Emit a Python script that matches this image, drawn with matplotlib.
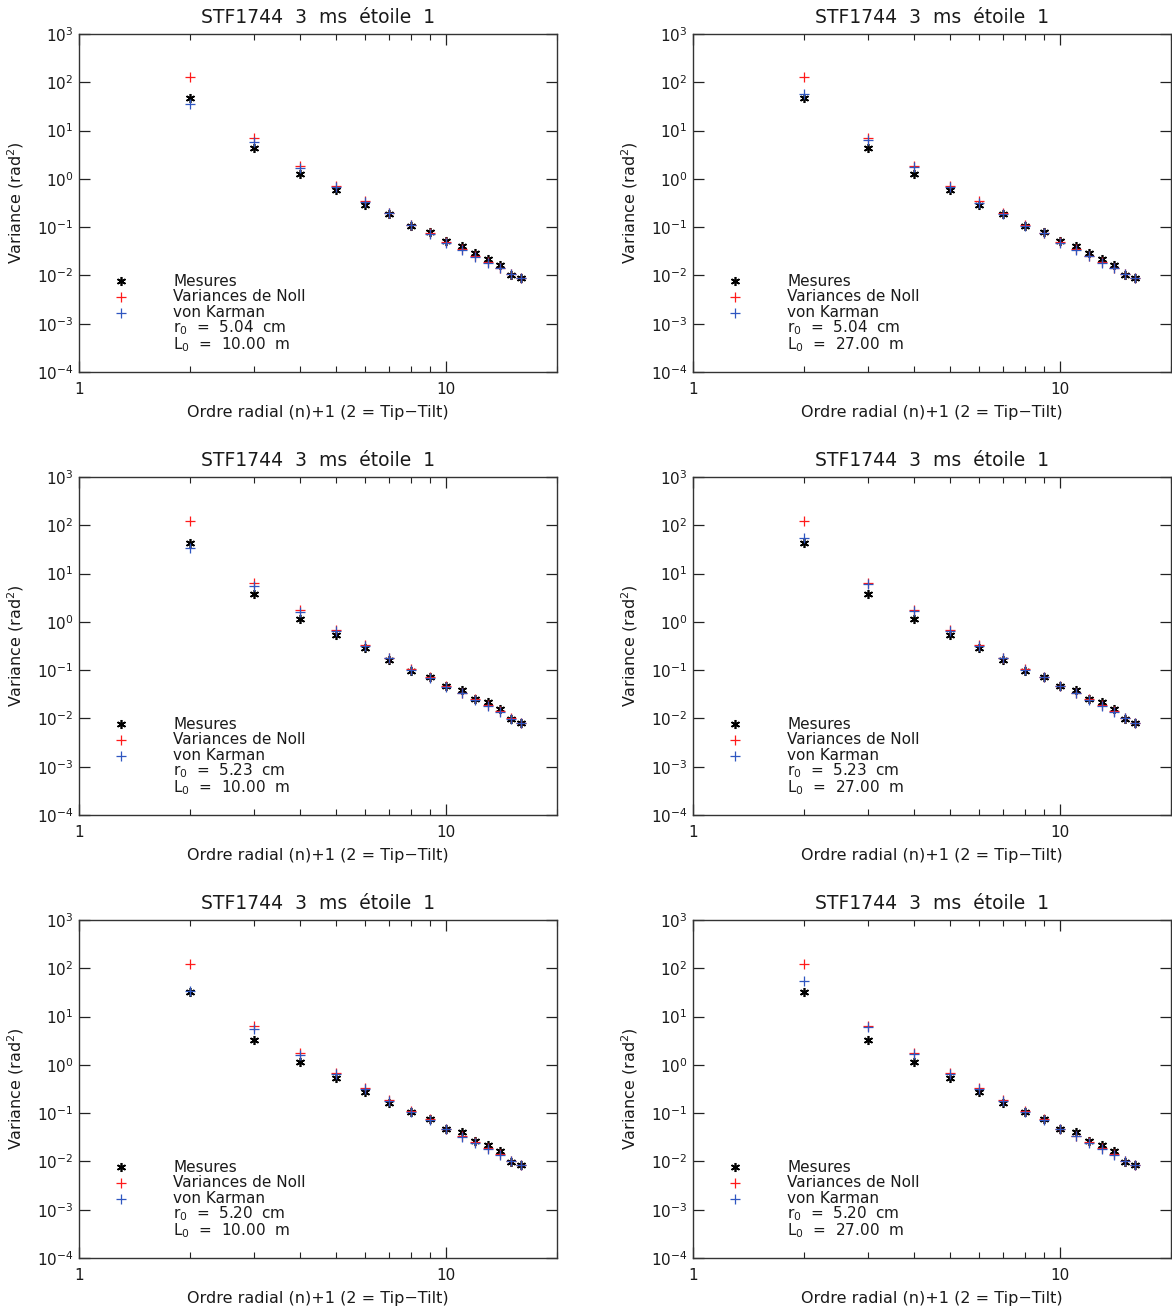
import matplotlib
matplotlib.use("Agg")
import matplotlib.pyplot as plt
from matplotlib.ticker import FixedLocator, NullLocator, LogFormatterMathtext, FixedFormatter

plt.rcParams["font.family"] = ["DejaVu Sans"]
plt.rcParams["mathtext.default"] = "regular"

# ---------------- data ----------------
radial_order = [2, 3, 4, 5, 6, 7, 8, 9, 10, 11, 12, 13, 14, 15, 16]

# row 1 : r0 = 5.04 cm
mes_r1 = [48, 4.3, 1.26, 0.60, 0.285, 0.19, 0.105, 0.079, 0.051, 0.040, 0.029, 0.0222, 0.0166, 0.0100, 0.0087]
noll_r1 = [130, 6.9, 1.86, 0.70, 0.34, 0.197, 0.112, 0.076, 0.050, 0.0345, 0.025, 0.0186, 0.0142, 0.0108, 0.0088]
vk_r1_L10 = [36, 5.7, 1.70, 0.68, 0.33, 0.194, 0.110, 0.073, 0.048, 0.034, 0.024, 0.018, 0.0140, 0.0105, 0.0087]
vk_r1_L27 = [58, 6.5, 1.77, 0.67, 0.32, 0.19, 0.107, 0.074, 0.048, 0.034, 0.025, 0.0185, 0.0140, 0.0105, 0.0087]

# row 2 : r0 = 5.23 cm
mes_r2 = [42, 3.75, 1.17, 0.53, 0.285, 0.166, 0.097, 0.073, 0.046, 0.0386, 0.025, 0.0214, 0.0156, 0.0097, 0.0079]
noll_r2 = [122, 6.4, 1.74, 0.67, 0.324, 0.18, 0.105, 0.073, 0.047, 0.034, 0.025, 0.0187, 0.0144, 0.0102, 0.0080]
vk_r2_L10 = [34, 5.6, 1.61, 0.64, 0.31, 0.175, 0.100, 0.070, 0.045, 0.033, 0.024, 0.0178, 0.0137, 0.0099, 0.0079]
vk_r2_L27 = [55, 6.1, 1.66, 0.65, 0.31, 0.176, 0.102, 0.071, 0.046, 0.033, 0.024, 0.0180, 0.0138, 0.0100, 0.0079]

# row 3 : r0 = 5.20 cm
mes_r3 = [33, 3.3, 1.16, 0.54, 0.276, 0.161, 0.107, 0.076, 0.047, 0.041, 0.0268, 0.0218, 0.0161, 0.0098, 0.0083]
noll_r3 = [124, 6.5, 1.72, 0.68, 0.334, 0.185, 0.109, 0.075, 0.048, 0.034, 0.0255, 0.0188, 0.0144, 0.0103, 0.0084]
vk_r3_L10 = [33.4, 5.65, 1.58, 0.65, 0.32, 0.175, 0.105, 0.072, 0.046, 0.032, 0.0244, 0.018, 0.0139, 0.0100, 0.0083]
vk_r3_L27 = [55, 6.1, 1.69, 0.66, 0.32, 0.178, 0.106, 0.073, 0.046, 0.033, 0.0245, 0.0181, 0.0139, 0.0100, 0.0083]

title_text = "STF1744  3  ms  \u00e9toile  1"
legend_labels = ["Mesures", "Variances de Noll", "von Karman"]
r0_values = ["5.04", "5.23", "5.20"]
L0_values = ["10.00", "27.00"]
xlabel_text = "Ordre radial (n)+1 (2 = Tip\u2212Tilt)"
ylabel_text = "Variance (rad$^2$)"
x_major = [1, 10]
x_major_labels = ["1", "10"]
x_minor = [2, 3, 4, 5, 6, 7, 8, 9, 20]
y_major = [1e-4, 1e-3, 1e-2, 1e-1, 1e0, 1e1, 1e2, 1e3]

rows = [
    (mes_r1, noll_r1, [vk_r1_L10, vk_r1_L27], r0_values[0]),
    (mes_r2, noll_r2, [vk_r2_L10, vk_r2_L27], r0_values[1]),
    (mes_r3, noll_r3, [vk_r3_L10, vk_r3_L27], r0_values[2]),
]

# ---------------- figure ----------------
W, H = 1172, 1311
fig = plt.figure(figsize=(W / 100, H / 100), dpi=100)
fig.patch.set_facecolor("white")

RED = "#ff1a1a"
BLUE = "#2f56c0"
TXT = "#1a1a1a"

ax_left_px = [79, 693]
ax_top_px = [34, 477, 920]
ax_w_px, ax_h_px = 478, 338

ast = (6, 2, 0)
MS = 6.5

for ri, (mes, noll, vks, r0) in enumerate(rows):
    for ci in range(2):
        l = ax_left_px[ci] / W
        b = 1 - (ax_top_px[ri] + ax_h_px) / H
        ax = fig.add_axes([l, b, ax_w_px / W, ax_h_px / H])
        ax.set_xscale("log")
        ax.set_yscale("log")
        ax.set_xlim(1, 20)
        ax.set_ylim(1e-4, 1e3)

        ax.plot(radial_order, mes, linestyle="none", marker=ast, ms=MS, mew=1.2, color="black", zorder=3)
        ax.plot(radial_order, noll, linestyle="none", marker="+", ms=MS, mew=0.9, color=RED, zorder=4)
        ax.plot(radial_order, vks[ci], linestyle="none", marker="+", ms=MS, mew=0.9, color=BLUE, zorder=5)

        ax.xaxis.set_major_locator(FixedLocator(x_major))
        ax.xaxis.set_major_formatter(FixedFormatter(x_major_labels))
        ax.xaxis.set_minor_locator(FixedLocator(x_minor))
        ax.yaxis.set_major_locator(FixedLocator(y_major))
        ax.yaxis.set_major_formatter(LogFormatterMathtext())
        ax.yaxis.set_minor_locator(NullLocator())
        ax.tick_params(which="both", direction="in", top=True, right=True,
                       colors="#222222", labelcolor=TXT)
        ax.tick_params(which="major", length=8, width=0.9, labelsize=11)
        ax.tick_params(which="minor", length=4, width=0.8)
        ax.tick_params(axis="x", which="both", pad=7)
        ax.tick_params(axis="y", which="both", pad=4)
        for sp in ax.spines.values():
            sp.set_linewidth(1.0)
            sp.set_color("#333333")

        ax.set_title(title_text, fontsize=13.5, color=TXT, pad=8)
        ax.set_xlabel(xlabel_text, fontsize=11.5, color=TXT, labelpad=6)
        ax.set_ylabel(ylabel_text, fontsize=11.5, color=TXT, labelpad=8)

        # legend drawn IDL-style
        sx, tx = 0.088, 0.197
        ys = [0.268, 0.222, 0.176, 0.130, 0.080]
        ax.plot([sx], [ys[0]], transform=ax.transAxes, marker=ast, ms=MS, mew=1.2,
                color="black", linestyle="none", clip_on=False)
        ax.plot([sx], [ys[1]], transform=ax.transAxes, marker="+", ms=MS, mew=0.9,
                color=RED, linestyle="none", clip_on=False)
        ax.plot([sx], [ys[2]], transform=ax.transAxes, marker="+", ms=MS, mew=0.9,
                color=BLUE, linestyle="none", clip_on=False)
        lines = legend_labels + ["r$_0$  =  %s  cm" % r0, "L$_0$  =  %s  m" % L0_values[ci]]
        for yy, s in zip(ys, lines):
            ax.text(tx, yy, s, transform=ax.transAxes, fontsize=11, color=TXT,
                    va="center", ha="left")

fig.savefig("out.png", dpi=100, facecolor="white")
